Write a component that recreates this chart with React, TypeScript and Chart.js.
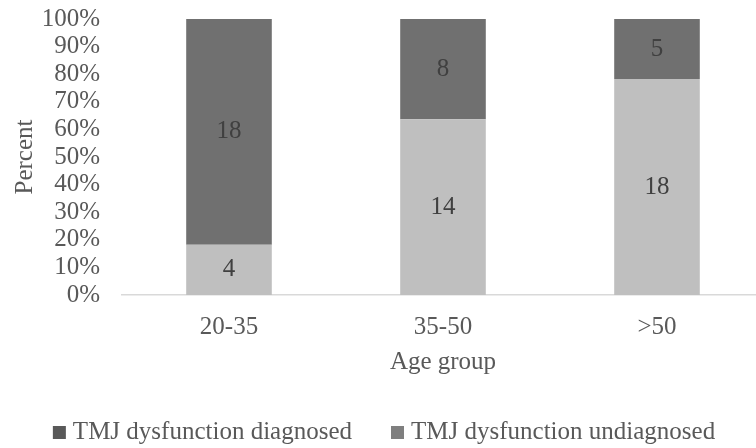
import React, { useEffect, useRef } from "react";
import { Chart, registerables } from "chart.js";

Chart.register(...registerables);

const categories = ["20-35", "35-50", ">50"];
const diagnosedCounts = [4, 14, 18];
const undiagnosedCounts = [18, 8, 5];
const seriesNames = ["TMJ dysfunction diagnosed", "TMJ dysfunction undiagnosed"];
const barColors = ["#bfbfbf", "#707070"];
const legendColors = ["#595959", "#7f7f7f"];
const yTickValues = [0, 10, 20, 30, 40, 50, 60, 70, 80, 90, 100];

const FONT = "'Liberation Serif', 'Times New Roman', serif";
const TEXT = "#595959";

export default function App() {
  const ref = useRef<HTMLCanvasElement | null>(null);

  useEffect(() => {
    if (!ref.current) return;
    const counts = [diagnosedCounts, undiagnosedCounts];
    const totals = categories.map((_, i) => diagnosedCounts[i] + undiagnosedCounts[i]);
    const pct = counts.map((arr) => arr.map((v, i) => (v / totals[i]) * 100));

    const valueLabels = {
      id: "valueLabels",
      afterDatasetsDraw(chart: any) {
        const ctx = chart.ctx;
        ctx.save();
        ctx.font = `25px ${FONT}`;
        ctx.fillStyle = "#404040";
        ctx.textAlign = "center";
        ctx.textBaseline = "middle";
        chart.data.datasets.forEach((_: any, di: number) => {
          const meta = chart.getDatasetMeta(di);
          meta.data.forEach((bar: any, i: number) => {
            const p = bar.getProps(["x", "y", "base"], true);
            ctx.fillText(String(counts[di][i]), p.x, (p.y + p.base) / 2);
          });
        });
        ctx.restore();
      },
    };

    const customLegend = {
      id: "customLegend",
      afterDraw(chart: any) {
        const ctx = chart.ctx;
        ctx.save();
        ctx.font = `25px ${FONT}`;
        const box = 13;
        const gapText = 7;
        const gapItem = 39;
        const widths = seriesNames.map((t) => ctx.measureText(t).width);
        const total =
          widths.reduce((a, w) => a + box + gapText + w, 0) + gapItem * (seriesNames.length - 1);
        let x = 384 - total / 2;
        const baseline = 439;
        ctx.textBaseline = "alphabetic";
        ctx.textAlign = "left";
        seriesNames.forEach((t, i) => {
          ctx.fillStyle = legendColors[i];
          ctx.fillRect(x, baseline - box, box, box);
          ctx.fillStyle = TEXT;
          ctx.fillText(t, x + box + gapText, baseline);
          x += box + gapText + widths[i] + gapItem;
        });
        ctx.restore();
      },
    };

    const chart = new Chart(ref.current, {
      type: "bar",
      data: {
        labels: categories,
        datasets: seriesNames.map((name, di) => ({
          label: name,
          data: pct[di],
          backgroundColor: barColors[di],
          borderWidth: 0,
          categoryPercentage: 1,
          barPercentage: 0.4,
        })),
      },
      options: {
        responsive: false,
        animation: false,
        layout: { padding: { top: 19, left: 0, right: 0, bottom: 49 } },
        plugins: {
          tooltip: { enabled: false },
          legend: { display: false },
        },
        scales: {
          x: {
            stacked: true,
            grid: { display: false, drawTicks: false },
            border: { display: true, color: "#d9d9d9", width: 1.5 },
            ticks: { font: { family: FONT, size: 25 }, color: TEXT, padding: 17 },
            title: {
              display: true,
              text: "Age group",
              font: { family: FONT, size: 25 },
              color: TEXT,
              padding: { top: 0, bottom: 22 },
            },
            afterFit: (s: any) => {
              s.height = 104;
              s.paddingLeft = 0;
              s.paddingRight = 0;
            },
          },
          y: {
            stacked: true,
            min: 0,
            max: 100,
            afterBuildTicks: (axis: any) => {
              axis.ticks = yTickValues.map((v) => ({ value: v }));
            },
            grid: { display: false, drawTicks: false },
            border: { display: false },
            ticks: {
              font: { family: FONT, size: 25 },
              color: TEXT,
              padding: 22,
              autoSkip: false,
              callback: (v: any) => `${v}%`,
            },
            title: {
              display: true,
              text: "Percent",
              font: { family: FONT, size: 25 },
              color: TEXT,
              padding: { top: 10, bottom: 0 },
            },
            afterFit: (s: any) => {
              s.width = 122;
              s.paddingTop = 0;
              s.paddingBottom = 0;
            },
          },
        },
      },
      plugins: [valueLabels, customLegend],
    });
    return () => chart.destroy();
  }, []);

  return (
    <div
      style={{
        position: "fixed",
        left: 0,
        top: 0,
        width: 756,
        height: 448,
        overflow: "hidden",
        background: "#fff",
      }}
    >
      <canvas ref={ref} width={764} height={448} style={{ display: "block" }} />
    </div>
  );
}
